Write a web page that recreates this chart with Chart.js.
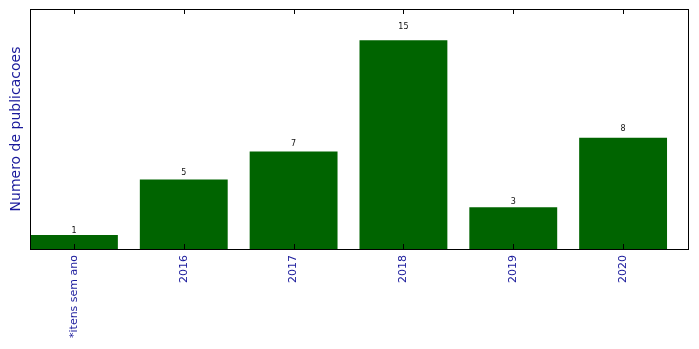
<!DOCTYPE html>
<html>
<head>
<meta charset="utf-8">
<script src="https://cdn.jsdelivr.net/npm/chart.js@4/dist/chart.umd.min.js"></script>
<style>
  body { margin: 0; background: #fff; }
</style>
</head>
<body>
<canvas id="pubs" width="699" height="349"></canvas>
<script>
// Data
const categories = ['*itens sem ano', '2016', '2017', '2018', '2019', '2020'];
const counts = [1, 5, 7, 15, 3, 8];
const yMax = 17.25;

const textBlue = '#1a1a9c';
const barGreen = '#006400';

// frame + inward tick marks (matplotlib look)
const framePlugin = {
    id: 'frame',
    afterDraw(chart) {
        const c = chart.ctx;
        const a = chart.chartArea;
        const xs = chart.scales.x;
        c.save();
        c.strokeStyle = '#000';
        c.lineWidth = 1;
        c.strokeRect(a.left + 0.5, a.top + 0.5, a.right - a.left - 1, a.bottom - a.top);
        xs.ticks.forEach(t => {
            const px = Math.round(xs.getPixelForValue(t.value)) + 0.5;
            c.beginPath();
            c.moveTo(px, a.bottom);
            c.lineTo(px, a.bottom - 5);
            c.moveTo(px, a.top);
            c.lineTo(px, a.top + 5);
            c.stroke();
        });
        c.restore();
    }
};

// value labels just above bars (at 1.05 x height, like the original)
const valuePlugin = {
    id: 'values',
    afterDatasetsDraw(chart) {
        const c = chart.ctx;
        const ys = chart.scales.y;
        const meta = chart.getDatasetMeta(0);
        c.save();
        c.font = '8px "DejaVu Sans"';
        c.fillStyle = '#111';
        c.textAlign = 'center';
        c.textBaseline = 'bottom';
        meta.data.forEach((bar, i) => {
            c.fillText(String(counts[i]), bar.x, ys.getPixelForValue(counts[i] * 1.05) + 1);
        });
        c.restore();
    }
};

const ctx = document.getElementById('pubs').getContext('2d');

new Chart(ctx, {
    type: 'bar',
    data: {
        datasets: [{
            data: counts.map((v, i) => ({ x: i, y: v })),
            backgroundColor: barGreen,
            borderWidth: 0,
            barPercentage: 0.8,
            categoryPercentage: 1
        }]
    },
    options: {
        responsive: false,
        animation: false,
        layout: { padding: { top: 9, right: 10, left: 0, bottom: 0 } },
        plugins: {
            legend: { display: false },
            tooltip: { enabled: false }
        },
        scales: {
            x: {
                type: 'linear',
                min: -0.4,
                max: 5.6,
                offset: false,
                border: { display: false },
                grid: { display: false, drawTicks: false, offset: false },
                ticks: {
                    autoSkip: false,
                    minRotation: 90,
                    maxRotation: 90,
                    padding: 6,
                    color: textBlue,
                    font: { family: 'DejaVu Sans', size: 11 },
                    callback: v => categories[Math.round(v)]
                },
                afterBuildTicks(scale) {
                    scale.ticks = categories.map((_, i) => ({ value: i }));
                },
                afterFit(scale) { scale.height = 100; }
            },
            y: {
                min: 0,
                max: yMax,
                border: { display: false },
                grid: { display: false, drawTicks: false },
                ticks: { display: false },
                title: {
                    display: true,
                    text: 'Numero de publicacoes',
                    color: textBlue,
                    font: { family: 'DejaVu Sans', size: 14 },
                    padding: { top: 8, bottom: 0 }
                },
                afterFit(scale) { scale.width = 30; }
            }
        }
    },
    plugins: [framePlugin, valuePlugin]
});
</script>
</body>
</html>
